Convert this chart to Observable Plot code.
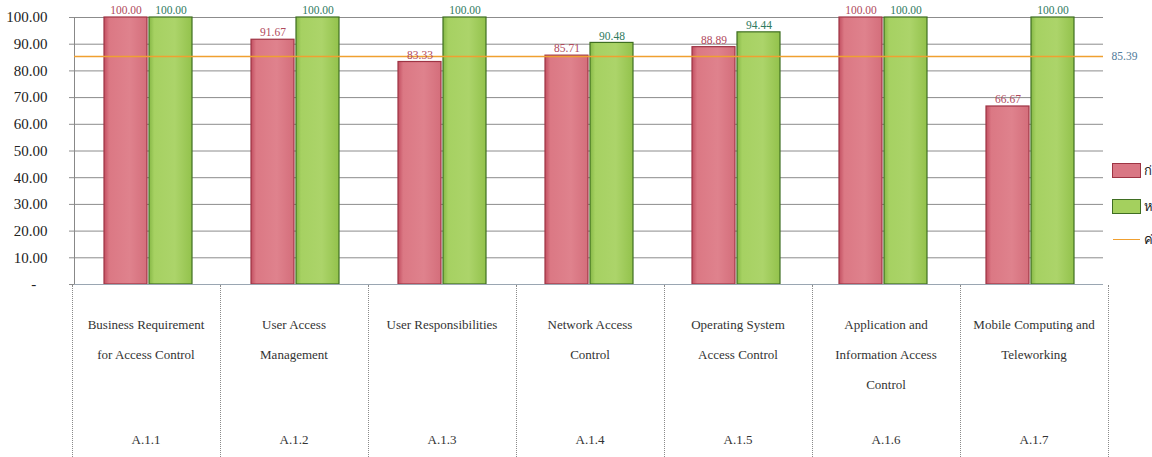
<!DOCTYPE html>
<html>
<head>
<meta charset="utf-8">
<script src="https://cdn.jsdelivr.net/npm/d3@7"></script>
<script src="https://cdn.jsdelivr.net/npm/@observablehq/plot@0.6"></script>
<style>
  html, body { margin: 0; padding: 0; background: #fff; overflow: hidden; }
  #wrap { position: relative; width: 1152px; height: 457px; overflow: hidden; background: #fff; font-family: "Liberation Serif", "Times New Roman", "DejaVu Serif", serif; }
  #wrap svg { display: block; }
  table.cats { position: absolute; border-collapse: collapse; table-layout: fixed; }
  table.cats td { border-left: 1px dotted #8a8a8a; border-right: 1px dotted #8a8a8a; padding: 0; vertical-align: top; position: relative; color: #333; font-size: 13px; text-align: center; font-family: "Liberation Serif", "Times New Roman", "DejaVu Serif", serif; }
  table.cats .lab { position: absolute; left: 0; right: 0; top: 25px; line-height: 30px; white-space: pre-line; }
  table.cats .code { position: absolute; left: 0; right: 0; top: 140px; line-height: 30px; }
  .legend { position: absolute; font-size: 13px; color: #222; font-family: "Noto Sans", sans-serif; }
  .legend .item { position: absolute; left: 0; white-space: nowrap; height: 16px; }
  .legend .sw { position: absolute; left: 0; top: 0; width: 27px; height: 13px; }
  .legend .ln { position: absolute; left: 1px; top: 7px; width: 27px; height: 0; border-top: 1.5px solid #f0a030; }
  .legend .tx { position: absolute; left: 32px; top: -3px; }
</style>
</head>
<body>
<div id="wrap"></div>
<script>
// ---- data ----
const codes = ["A.1.1", "A.1.2", "A.1.3", "A.1.4", "A.1.5", "A.1.6", "A.1.7"];
const categories = [
  "Business Requirement\nfor Access Control",
  "User Access\nManagement",
  "User Responsibilities",
  "Network Access\nControl",
  "Operating System\nAccess Control",
  "Application and\nInformation Access\nControl",
  "Mobile Computing and\nTeleworking"
];
const seriesNames = ["ก่อนปรับปรุง", "หลังปรับปรุง"];
const averageName = "ค่าเฉลี่ย";
const before = [100.00, 91.67, 83.33, 85.71, 88.89, 100.00, 66.67];
const after = [100.00, 100.00, 100.00, 90.48, 94.44, 100.00, 100.00];
const average = 85.39;
const yTicks = [0, 10, 20, 30, 40, 50, 60, 70, 80, 90, 100];

// ---- styles ----
const serif = "'Liberation Serif', 'Times New Roman', 'DejaVu Serif', serif";
const redFill = "url(#gRed)", redStroke = "#9e3444", redText = "#b04a5c";
const greenFill = "url(#gGreen)", greenStroke = "#3f6e22", greenText = "#2f7a60";
const avgColor = "#f0a030", avgText = "#4f7a9a";

const rows = [];
codes.forEach((c, i) => {
  rows.push({code: c, series: seriesNames[0], value: before[i]});
  rows.push({code: c, series: seriesNames[1], value: after[i]});
});
const rowsBefore = rows.filter(d => d.series === seriesNames[0]);
const rowsAfter = rows.filter(d => d.series === seriesNames[1]);

const defs = () => {
  const ns = "http://www.w3.org/2000/svg";
  const d = document.createElementNS(ns, "defs");
  d.innerHTML = `
    <linearGradient id="gRed" x1="0" x2="1" y1="0" y2="0">
      <stop offset="0" stop-color="#c24f61"/>
      <stop offset="0.12" stop-color="#db7884"/>
      <stop offset="0.6" stop-color="#df828d"/>
      <stop offset="1" stop-color="#d46e7b"/>
    </linearGradient>
    <linearGradient id="gGreen" x1="0" x2="1" y1="0" y2="0">
      <stop offset="0" stop-color="#86b846"/>
      <stop offset="0.12" stop-color="#a6d162"/>
      <stop offset="0.6" stop-color="#acd46a"/>
      <stop offset="1" stop-color="#93c24c"/>
    </linearGradient>`;
  return d;
};

const chart = Plot.plot({
  width: 1152,
  height: 457,
  marginLeft: 72,
  marginRight: 47,
  marginTop: 17,
  marginBottom: 173,
  style: {fontFamily: serif, fontSize: "13px", background: "transparent"},
  fx: {domain: codes, padding: 0, axis: null},
  x: {domain: seriesNames, paddingInner: 0.05, paddingOuter: 0.65, axis: null},
  y: {domain: [0, 100], axis: null},
  marks: [
    defs,
    Plot.gridY(yTicks, {stroke: "#8c8c8c", strokeOpacity: 1, strokeWidth: 1}),
    Plot.axisY(yTicks, {
      tickSize: 5, tickPadding: 22, stroke: "#8c8c8c", fill: "#222", fontSize: 15, fontFamily: serif,
      tickFormat: d => d === 0 ? "-\u00a0\u00a0\u00a0" : d.toFixed(2)
    }),
    Plot.frame({anchor: "left", facetAnchor: "left", stroke: "#888", strokeDasharray: "1,1"}),
    Plot.barY(rowsBefore, {fx: "code", x: "series", y: "value", fill: redFill, stroke: redStroke, strokeWidth: 1.2}),
    Plot.barY(rowsAfter, {fx: "code", x: "series", y: "value", fill: greenFill, stroke: greenStroke, strokeWidth: 1.2}),
    Plot.ruleY([0], {stroke: "#9aa6b2", strokeWidth: 1.2}),
    Plot.ruleY([average], {stroke: avgColor, strokeWidth: 1.6}),
    Plot.text([{code: codes[codes.length - 1], v: average}], {
      fx: "code", y: "v", text: d => d.v.toFixed(2), frameAnchor: "right", textAnchor: "start", dx: 8,
      fill: avgText, fontSize: 11.5, fontFamily: serif
    }),
    Plot.text(rowsBefore, {fx: "code", x: "series", y: "value", text: d => d.value.toFixed(2), dy: -7, fill: redText, fontSize: 11.5, fontFamily: serif}),
    Plot.text(rowsAfter, {fx: "code", x: "series", y: "value", text: d => d.value.toFixed(2), dy: -7, fill: greenText, fontSize: 11.5, fontFamily: serif})
  ]
});

const wrap = document.getElementById("wrap");
wrap.appendChild(chart);

// ---- category table below the axis, aligned with the fx scale ----
const fx = chart.scale("fx");
const y = chart.scale("y");
const table = document.createElement("table");
table.className = "cats";
const r0 = Math.min(...fx.range);
table.style.left = (r0 - 0.5) + "px";
table.style.top = (Math.max(...y.range) + 1) + "px";
const tr = document.createElement("tr");
codes.forEach((c, i) => {
  const td = document.createElement("td");
  td.style.width = fx.bandwidth + "px";
  td.style.height = "180px";
  td.innerHTML = `<div class="lab"></div><div class="code"></div>`;
  td.querySelector(".lab").textContent = categories[i];
  td.querySelector(".code").textContent = c;
  tr.appendChild(td);
});
table.appendChild(tr);
table.style.width = (fx.bandwidth * codes.length) + "px";
wrap.appendChild(table);

// ---- legend on the right ----
const legend = document.createElement("div");
legend.className = "legend";
legend.style.left = "1112px";
legend.style.top = "163px";
const legendItems = [
  {name: seriesNames[0], bg: "#d97784", border: redStroke, top: 0},
  {name: seriesNames[1], bg: "#a4d05e", border: greenStroke, top: 36},
  {name: averageName, line: avgColor, top: 69}
];
legendItems.forEach(it => {
  const el = document.createElement("div");
  el.className = "item";
  el.style.top = it.top + "px";
  if (it.line) {
    el.innerHTML = `<div class="ln"></div><div class="tx"></div>`;
  } else {
    el.innerHTML = `<div class="sw" style="background:${it.bg};border:1px solid ${it.border}"></div><div class="tx"></div>`;
  }
  el.querySelector(".tx").textContent = it.name;
  legend.appendChild(el);
});
wrap.appendChild(legend);
</script>
</body>
</html>
